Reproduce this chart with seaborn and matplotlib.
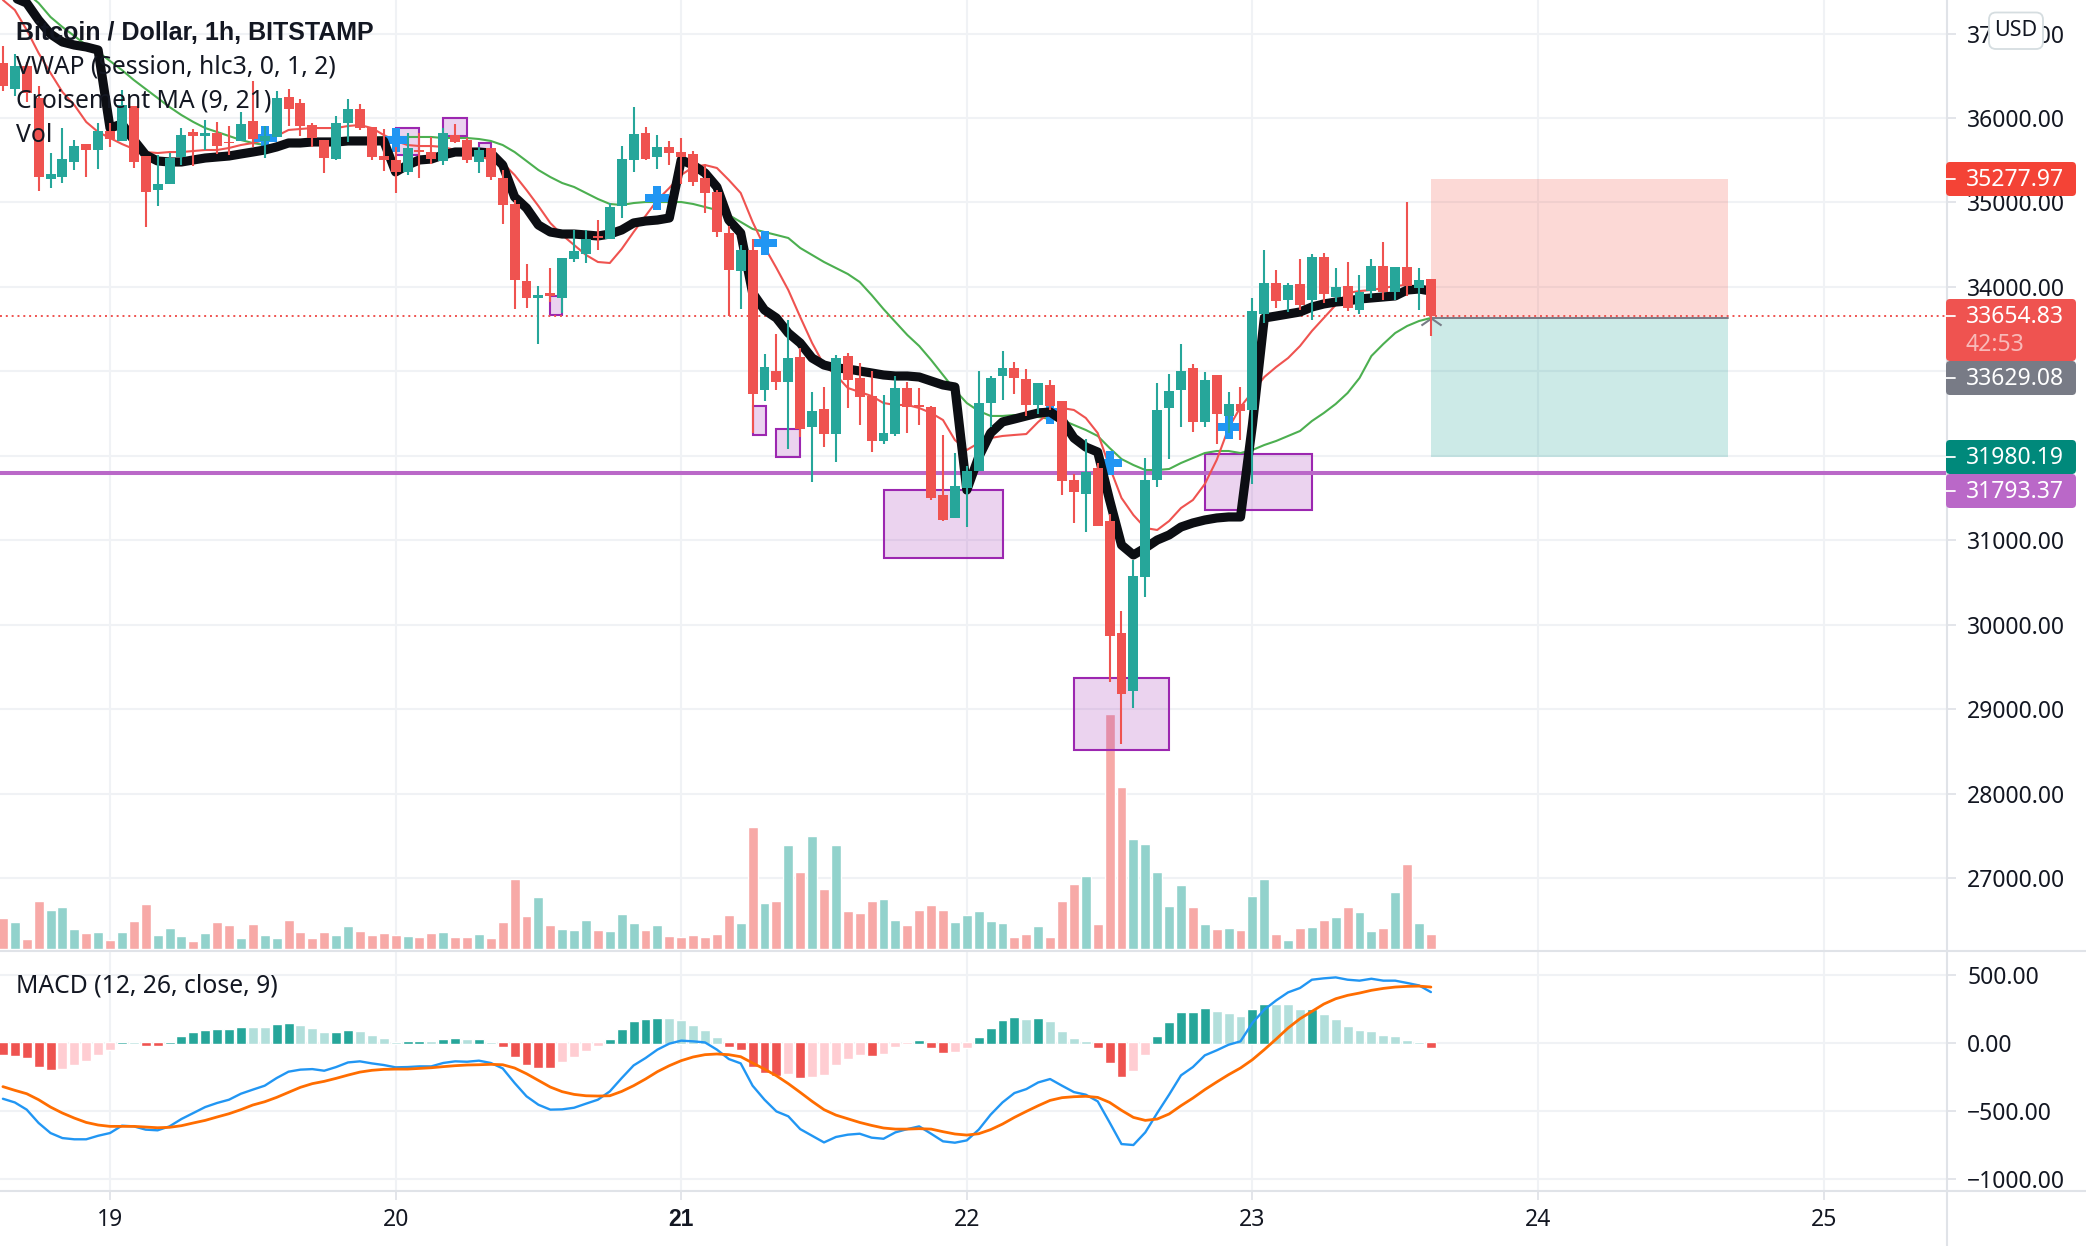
import numpy as np
import pandas as pd
import matplotlib
matplotlib.use("Agg")
import matplotlib.pyplot as plt
from matplotlib.lines import Line2D
from matplotlib.patches import FancyBboxPatch, Rectangle
from matplotlib.path import Path
from matplotlib.transforms import IdentityTransform
import seaborn as sns

# ---- data: hourly bars, hour 0 is the start of day 19 ----
hours = list(range(-9, 112))
open_ = [36651,36343,36616,36237,35278,35301,35479,35692,35621,
 35846,35728,36142,35550,35147,35218,35538,35834,35787,35822,35716,35728,35964,35728,35775,36249,36177,35917,35739,35514,35941,36106,35893,35550,
 35503,35361,35621,35597,35491,35799,35739,35479,35645,35289,34982,34070,33869,33928,33869,34330,34390,34603,34567,34958,35503,35822,35538,35657,
 35597,35574,35289,35124,34638,34188,34437,32779,33004,32874,33170,32341,32554,32258,33182,32921,32708,32176,32258,32803,32602,32578,31536,31264,
 31619,31820,32625,32945,33040,32910,32602,32839,32649,31714,31548,31856,31228,29902,29216,30565,31714,32566,32779,33040,32401,32957,32472,32614,
 32543,33679,34046,33845,34034,33845,34354,33881,34011,33727,33952,34248,33940,34236,33987,34094]
close = [36379,36616,36296,35301,35337,35514,35668,35621,35846,
 35751,36154,35479,35124,35218,35526,35799,35787,35822,35668,35704,35929,35751,35787,36237,36106,35905,35763,35526,35941,36106,35881,35538,35503,
 35361,35645,35597,35514,35822,35716,35503,35621,35301,34970,34082,33869,33904,33892,34342,34425,34567,34579,34946,35514,35810,35514,35657,35585,
 35538,35242,35112,34650,34200,34437,32732,33052,32874,33158,32318,32531,32258,33158,32898,32697,32176,32270,32803,32578,32578,31501,31240,31643,
 31820,32625,32921,33040,32921,32602,32862,32590,31702,31572,31809,31169,29867,29180,30577,31714,32543,32768,33004,32401,32898,32495,32614,32531,
 33715,34046,33833,34023,33786,34354,33916,33999,33750,33940,34248,33940,34236,34011,34082,33655]
high = [36852,36758,36663,36379,35585,35881,35739,35692,35941,
 35941,36331,36142,35550,35562,35585,35881,35870,35976,35953,35905,36071,36438,35905,36320,36343,36225,35941,35739,36024,36225,36166,35893,35870,
 35657,35822,35822,35775,35881,35929,35763,35657,35645,35384,35029,34271,34011,34224,34342,34674,34674,34792,34993,35668,36130,35893,35799,35728,
 35763,35609,35455,35147,34721,34496,34567,33206,33442,33608,33277,32756,32815,33194,33217,33099,33004,32720,32945,32874,32803,32590,32247,32033,
 31880,33004,32945,33241,33111,33028,32862,32898,32649,31785,32199,31915,31311,30163,30767,31974,32862,32969,33324,33087,32993,32957,32756,32815,
 33869,34437,34200,34046,34330,34390,34401,34224,34295,34141,34330,34532,34236,35005,34224,34094]
low = [36320,36260,36189,35136,35171,35230,35384,35301,35396,
 35657,35728,35408,34709,34958,35218,35443,35432,35621,35574,35562,35728,35657,35526,35775,35905,35787,35657,35349,35503,35716,35858,35503,35372,
 35112,35325,35289,35455,35443,35704,35467,35349,35266,34745,33738,33750,33324,33821,33691,34295,34283,34437,34567,34816,35361,35503,35396,35443,
 35218,35195,34875,34591,33656,33738,32270,32649,32779,32081,32223,31690,32105,31927,32566,32365,32045,32140,32235,32270,32365,31477,31228,31264,
 31157,31820,32341,32661,32732,32472,32495,32543,31536,31205,31098,31169,29322,28588,29014,30329,31631,31962,32341,32282,32341,32140,32270,32187,
 31666,33573,33750,33703,33727,33608,33809,33821,33715,33679,33869,33845,33845,33892,33727,33419]
volume = [930,810,300,1440,1170,1260,600,480,510,
 270,510,840,1350,420,630,390,240,480,810,720,330,750,420,330,870,510,330,510,420,690,540,420,480,
 420,390,360,480,510,360,360,450,330,810,2100,990,1560,720,600,570,870,570,540,1050,780,570,720,390,
 360,420,360,450,1020,780,3660,1380,1440,3120,2310,3390,1800,3120,1140,1080,1440,1500,870,720,1170,1320,1170,810,
 1020,1140,840,780,360,450,690,360,1440,1950,2190,750,7060,4860,3300,3150,2310,1290,1920,1260,750,600,630,570,
 1590,2100,450,270,630,660,870,960,1260,1110,540,630,1710,2550,780,450]
vwap = [37575,37421,37361,37160,36994,36900,36864,36841,36805,
 35881,35929,35739,35562,35491,35479,35479,35503,35526,35538,35550,35574,35597,35621,35657,35704,35704,35716,35716,35716,35728,35728,35728,35728,
 35361,35443,35503,35514,35562,35597,35597,35597,35585,35443,35065,34934,34733,34650,34626,34626,34615,34603,34626,34674,34757,34780,34792,34816,
 35503,35443,35349,35183,34792,34638,33928,33727,33632,33454,33336,33158,33075,33040,33028,33004,32981,32957,32945,32945,32933,32886,32839,32815,
 31595,31986,32270,32401,32436,32472,32507,32519,32424,32211,32104,32045,31477,30944,30826,30909,31003,31063,31157,31205,31240,31264,31276,31276,
 32365,33632,33655,33679,33703,33762,33798,33821,33833,33857,33869,33881,33893,33963,33975,33951]
ma9 = [37397,37279,37042,36769,36533,36308,36154,35953,35834,
 35763,35692,35633,35597,35585,35597,35597,35609,35621,35621,35645,35680,35704,35739,35787,35858,35870,35881,35881,35881,35905,35917,35881,35799,
 35728,35680,35668,35668,35657,35621,35585,35550,35503,35467,35325,35147,34958,34757,34615,34496,34378,34295,34283,34449,34650,34840,35029,35171,
 35325,35420,35443,35408,35266,35112,34769,34473,34224,33963,33644,33336,33075,32957,32803,32756,32708,32625,32602,32602,32566,32507,32424,32187,
 32069,32152,32211,32235,32247,32258,32401,32519,32566,32543,32448,32270,31868,31501,31299,31145,31122,31228,31382,31477,31666,31951,32329,32578,
 32756,32933,33052,33158,33300,33478,33632,33786,33928,33951,33963,33987,34011,34023,33999,33963]
ma21 = [37729,37610,37480,37361,37196,37077,36971,36864,36781,
 36675,36568,36450,36343,36237,36130,36035,35953,35881,35834,35787,35739,35704,35680,35680,35692,35704,35716,35728,35739,35751,35763,35763,35775,
 35775,35775,35775,35775,35763,35763,35763,35751,35728,35680,35597,35491,35384,35301,35230,35183,35112,35041,34982,34970,34993,35005,35005,35005,
 35005,34982,34946,34911,34851,34769,34686,34650,34615,34579,34461,34378,34295,34224,34153,34058,33904,33738,33584,33431,33300,33135,32957,32779,
 32625,32531,32472,32472,32483,32472,32460,32436,32424,32365,32306,32235,32093,31962,31891,31832,31832,31844,31915,31974,32033,32057,32057,32033,
 32069,32128,32176,32235,32294,32412,32507,32614,32744,32921,33182,33324,33454,33537,33596,33632]
macd_line = [-412,-439,-492,-590,-664,-701,-710,-710,-684,
 -664,-610,-615,-639,-644,-615,-561,-517,-473,-443,-419,-375,-345,-316,-260,-213,-198,-194,-206,-179,-145,-137,-152,-164,
 -181,-179,-174,-174,-149,-137,-140,-132,-149,-189,-296,-394,-456,-492,-490,-478,-448,-419,-358,-260,-167,-113,-51,-7,
 15,10,2,-51,-120,-152,-316,-419,-505,-541,-635,-684,-733,-693,-676,-669,-698,-706,-659,-635,-615,-669,-725,-735,
 -718,-639,-529,-439,-370,-341,-292,-267,-316,-363,-382,-431,-586,-745,-752,-659,-517,-382,-240,-179,-93,-56,-15,10,
 145,243,311,370,402,463,473,480,463,456,470,456,456,439,421,372]
signal_line = [-323,-350,-375,-419,-473,-517,-554,-586,-605,
 -615,-615,-615,-620,-625,-622,-610,-590,-571,-546,-522,-492,-458,-434,-402,-365,-328,-301,-284,-262,-238,-216,-203,-196,
 -194,-194,-189,-184,-176,-169,-164,-162,-159,-162,-186,-228,-277,-326,-360,-380,-390,-392,-390,-358,-316,-267,-213,-169,
 -132,-105,-88,-83,-88,-103,-149,-194,-243,-301,-365,-431,-492,-532,-559,-586,-608,-627,-635,-635,-632,-635,-654,-671,
 -679,-669,-639,-598,-549,-505,-463,-424,-404,-397,-394,-402,-439,-497,-549,-571,-561,-524,-463,-407,-345,-289,-235,-186,
 -125,-51,27,108,176,230,284,323,348,365,385,399,409,414,416,409]
macd_hist = [-88,-96,-110,-176,-198,-191,-162,-132,-88,
 -51,7,7,-22,-22,7,51,81,96,103,103,118,118,118,140,147,132,110,81,81,96,88,59,37,
 7,15,15,15,29,37,29,29,7,-29,-103,-162,-184,-184,-140,-103,-59,-22,29,103,162,176,184,184,
 169,132,96,44,-29,-51,-176,-220,-243,-228,-257,-250,-235,-162,-118,-88,-96,-81,-29,-7,22,-37,-73,-66,
 -37,44,110,169,191,176,184,162,88,37,15,-37,-147,-250,-206,-88,51,154,228,228,257,235,220,198,
 250,287,287,287,250,250,213,176,125,96,88,59,51,22,7,-37]
hist_strong = [1,1,1,1,1,0,0,0,0,
 0,1,0,1,1,1,1,1,1,1,1,1,0,0,1,1,0,0,0,1,1,0,0,0,
 0,1,1,0,1,1,0,1,0,1,1,1,1,1,0,0,0,0,1,1,1,1,1,0,
 0,0,0,0,1,1,1,1,1,0,1,0,0,0,0,0,1,0,0,0,1,1,1,0,
 0,1,1,1,1,0,1,0,0,0,0,1,1,1,0,0,1,1,1,1,1,0,0,0,
 1,1,0,0,0,1,0,0,0,0,0,0,0,0,0,1]
cross_hours = [13, 24, 46, 55, 79, 84, 94]
cross_prices = [35763, 35739, 35053, 34520, 32519, 31915, 32341]
# boxes: first hour, last hour, top price, bottom price
box_start = [24, 28, 31, 37, 54, 56, 65, 81, 92]
box_end = [26, 30, 32, 38, 55.1, 58, 75, 89, 101]
box_top = [35885, 36003, 35707, 33892, 32590, 32321, 31595, 29370, 32022]
box_bottom = [35562, 35783, 35597, 33667, 32247, 31986, 30790, 28517, 31359]
target_price, entry_price, stop_price = 35277.97, 33629.08, 31980.19
support_price = 31793.37
last_price = 33654.83
position_start, position_end = 111, 136
price_grid = [27000,28000,29000,30000,31000,32000,33000,34000,35000,36000,37000]
macd_ticks = [500, 0, -500, -1000]
day_hours = [0, 24, 48, 72, 96, 120, 144]
day_labels = ["19", "20", "21", "22", "23", "24", "25"]

n = len(hours)
for name, arr in dict(o=open_, c=close, h=high, l=low, v=volume, w=vwap, m9=ma9, m21=ma21,
                      ml=macd_line, s=signal_line, mh=macd_hist, f=hist_strong).items():
    assert len(arr) == n, (name, len(arr))

# ---- style ----
sns.set_theme(style="white")
plt.rcParams["font.family"] = ["Noto Sans", "DejaVu Sans"]
W, H = 2086, 1246
UP, DOWN = "#26a69a", "#ef5350"
GRID, AXIS, INK = "#f0f2f5", "#e0e3e8", "#131722"
FS = 16.5
LEGEND_FS = 17.8
BOLD_FAMILY = ["Liberation Sans", "DejaVu Sans"]

fig = plt.figure(figsize=(W / 100, H / 100), dpi=100, facecolor="white")
AX_R = 1947
MAIN_B, MACD_B = 951, 1191

def rect(top, bottom):
    return [0, 1 - bottom / H, AX_R / W, (bottom - top) / H]

XLIM = (-9.244, 154.37)
PRICE_LIM = (26137, 37397)
VOL_LIM = (-60, 28470)
MACD_LIM = (-1090, 674)
HIST_GAP = 7  # histogram bars start one pixel beyond the zero line

ax_bg = fig.add_axes(rect(0, MAIN_B), zorder=0)
ax_vol = fig.add_axes(rect(0, MAIN_B), zorder=1)
ax_price = fig.add_axes(rect(0, MAIN_B), zorder=2)
ax_m = fig.add_axes(rect(MAIN_B, MACD_B), zorder=0)

direction = ["up" if c >= o else "down" for o, c in zip(open_, close)]
bars = pd.DataFrame(dict(hour=hours, open=open_, close=close, high=high, low=low, volume=volume,
                         vwap=vwap, ma9=ma9, ma21=ma21, macd=macd_line, signal=signal_line,
                         hist=macd_hist, direction=direction))
bars["shade"] = [("pos" if v >= 0 else "neg") + ("1" if s else "0") for v, s in zip(macd_hist, hist_strong)]

# volume
sns.barplot(data=bars, x="hour", y="volume", hue="direction", ax=ax_vol, native_scale=True, dodge=False,
            palette={"up": "#92d2cc", "down": "#f7a9a7"}, saturation=1, width=0.84, legend=False)
ax_vol.set_xlim(*XLIM)
ax_vol.set_ylim(*VOL_LIM)
ax_vol.axis("off")

# grid + axis
ax_bg.set_xlim(*XLIM)
ax_bg.set_ylim(*PRICE_LIM)
ax_bg.set_xticks(day_hours)
ax_bg.set_yticks(price_grid)
ax_bg.set_yticklabels([("" if p in (32000, 33000) else f"{p:.2f}") for p in price_grid])
ax_bg.grid(True, color=GRID, lw=1.5)
ax_bg.tick_params(axis="x", length=0, labelbottom=False)
ax_bg.tick_params(axis="y", left=False, right=True, labelleft=False, labelright=True,
                  length=6.5, width=1.3, color=AXIS, pad=8, labelsize=FS, labelcolor=INK)
for s in ax_bg.spines.values():
    s.set_visible(False)

# price pane
ax = ax_price
ax.patch.set_alpha(0)
for x0, x1, t, b in zip(box_start, box_end, box_top, box_bottom):
    ax.add_patch(Rectangle((x0, b), x1 - x0, t - b, fc=(0.612, 0.153, 0.690, 0.2),
                           ec="#9c27b0", lw=1.5, zorder=1))
ax.add_patch(Rectangle((position_start, entry_price), position_end - position_start, target_price - entry_price,
                       fc="#f44336", alpha=0.2, lw=0, zorder=1))
ax.add_patch(Rectangle((position_start, stop_price), position_end - position_start, entry_price - stop_price,
                       fc="#009688", alpha=0.2, lw=0, zorder=1))
ax.plot([position_start, position_end], [entry_price, entry_price], color="#787b86", lw=1.4, zorder=1.2)
ax.axhline(support_price, color="#ba68c8", lw=2.9, zorder=1.5)
ax.axhline(last_price, color="#ef5350", lw=1.4, ls=(0, (1, 2)), zorder=1.5)
chevron = Path([(-1, -0.7), (0, 0), (1, -0.7)])
ax.plot([position_start], [entry_price], marker=chevron, ms=14.5, mfc="none", mec="#787b86", mew=1.5, zorder=1.8, ls="none")

sns.lineplot(data=bars, x="hour", y="ma21", ax=ax, color="#4caf50", linewidth=1.5, zorder=2, errorbar=None)
sns.lineplot(data=bars, x="hour", y="ma9", ax=ax, color="#ef5350", linewidth=1.5, zorder=2.1, errorbar=None)
sns.scatterplot(x=cross_hours, y=cross_prices, ax=ax, marker="P", s=17.3 ** 2, color="#2196f3", linewidth=0, zorder=3)
sns.lineplot(data=bars, x="hour", y="vwap", ax=ax, color="#0c0e13", linewidth=6.6, zorder=3.5, errorbar=None)

colors = [UP if d == "up" else DOWN for d in direction]
ax.vlines(hours, low, high, colors=colors, lw=1.5, zorder=4)
ax.bar(hours, np.abs(np.array(close) - np.array(open_)), bottom=np.minimum(open_, close), width=0.84,
       color=colors, zorder=5, linewidth=0)
ax.set_xlim(*XLIM)
ax.set_ylim(*PRICE_LIM)
ax.axis("off")

# MACD pane
sns.barplot(data=bars, x="hour", y="hist", hue="shade", ax=ax_m, native_scale=True, dodge=False,
            palette={"pos1": UP, "pos0": "#b2dfdb", "neg1": DOWN, "neg0": "#ffcdd2"},
            saturation=1, width=0.84, legend=False, zorder=2)
for p in ax_m.patches:
    v = p.get_height()
    if v >= 0:
        p.set_y(-HIST_GAP)
        p.set_height(v + HIST_GAP)
    else:
        p.set_y(HIST_GAP)
        p.set_height(v - HIST_GAP)
sns.lineplot(data=bars, x="hour", y="macd", ax=ax_m, color="#2196f3", linewidth=1.7, zorder=3, errorbar=None)
sns.lineplot(data=bars, x="hour", y="signal", ax=ax_m, color="#ff6d00", linewidth=2.0, zorder=3.1, errorbar=None)
ax_m.set_xlim(*XLIM)
ax_m.set_ylim(*MACD_LIM)
ax_m.set_xlabel("")
ax_m.set_ylabel("")
ax_m.set_xticks(day_hours)
ax_m.set_xticklabels(day_labels)
ax_m.set_yticks(macd_ticks)
ax_m.set_yticklabels([f"{v:.2f}".replace("-", "\u2212") for v in macd_ticks])
ax_m.set_axisbelow(True)
ax_m.grid(True, color=GRID, lw=1.5)
ax_m.tick_params(axis="y", left=False, right=True, labelleft=False, labelright=True,
                 length=6.5, width=1.3, color=AXIS, pad=8, labelsize=FS, labelcolor=INK)
ax_m.tick_params(axis="x", bottom=True, length=6.5, width=1.3, color=AXIS, pad=6, labelsize=FS, labelcolor=INK)
ax_m.get_xticklabels()[2].set_fontweight("bold")
ax_m.get_xticklabels()[2].set_family(BOLD_FAMILY)
for s in ax_m.spines.values():
    s.set_visible(False)

ax.set_xlabel("")
ax.set_ylabel("")

# frame lines, in pixels from the top left
def hline(y, x0=0, x1=W):
    fig.add_artist(Line2D([x0, x1], [H - y, H - y], transform=IdentityTransform(), color=AXIS, lw=1.5, zorder=6))
hline(MAIN_B)
hline(MACD_B)
fig.add_artist(Line2D([AX_R, AX_R], [0, H], transform=IdentityTransform(), color=AXIS, lw=1.5, zorder=6))

# price badges on the axis
def badge(y0, y1, tick_y, label, color):
    fig.add_artist(FancyBboxPatch((AX_R - 1, H - y1), W - 10 - AX_R + 1, y1 - y0,
                                  boxstyle="round,pad=0,rounding_size=4", transform=IdentityTransform(),
                                  fc=color, ec="none", zorder=10))
    fig.add_artist(Line2D([AX_R - 1, AX_R + 8], [H - tick_y, H - tick_y], transform=IdentityTransform(),
                          color="white", lw=1.3, zorder=11))
    fig.text(1966 / W, 1 - (tick_y + 1) / H, label, color="white", fontsize=FS, va="center", ha="left", zorder=12)

badge(162, 196, 179, f"{target_price:.2f}", "#f44336")
badge(299, 361, 316, f"{last_price:.2f}", "#ef5350")
fig.text(1966 / W, 1 - 345 / H, "42:53", color=(1, 1, 1, 0.6), fontsize=FS, va="center", ha="left", zorder=12)
badge(361, 395, 378, f"{entry_price:.2f}", "#787b86")
badge(440, 474, 457, f"{stop_price:.2f}", "#00897b")
badge(474, 508, 491, f"{support_price:.2f}", "#ba68c8")

# currency button
fig.add_artist(FancyBboxPatch((1989, H - 49), 54, 36.5, boxstyle="round,pad=0,rounding_size=7",
                              transform=IdentityTransform(), fc="white", ec="#d5dde0", lw=1.3, zorder=10))
fig.text(2016 / W, 1 - 30 / H, "USD", color=INK, fontsize=15.5, va="center", ha="center", zorder=12)

# legends
fig.text(16 / W, 1 - 32.5 / H, "Bitcoin / Dollar, 1h, BITSTAMP", color=INK, fontsize=18,
         fontweight="bold", family=BOLD_FAMILY, va="center", ha="left", zorder=12)
for y, txt in [(67.5, "VWAP (Session, hlc3, 0, 1, 2)"),
               (101.5, "Croisement MA (9, 21)"),
               (136, "Vol"),
               (986, "MACD (12, 26, close, 9)")]:
    fig.text(16 / W, 1 - y / H, txt, color=INK, fontsize=LEGEND_FS, va="center", ha="left", zorder=12)

fig.savefig("out.png", dpi=100, facecolor="white")
